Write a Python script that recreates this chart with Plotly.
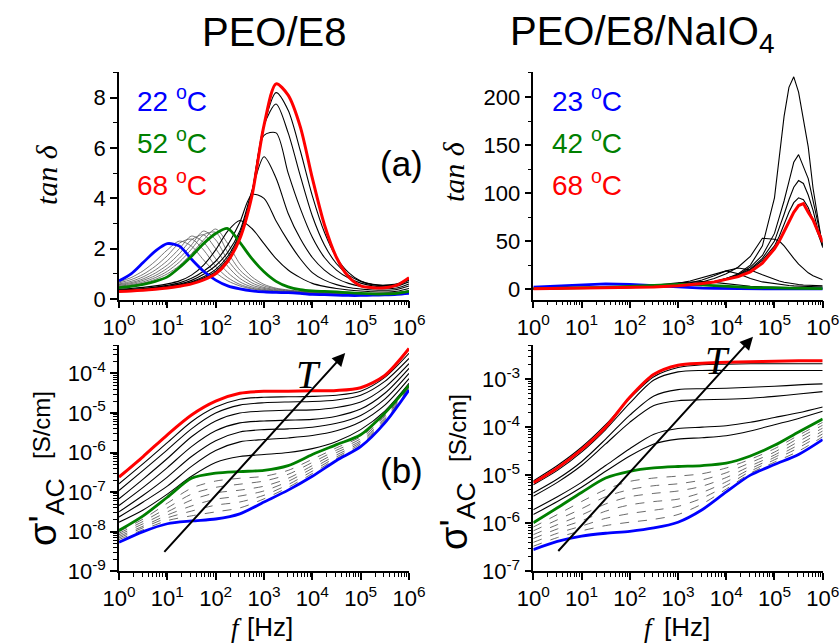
import numpy as np
import plotly.graph_objects as go

# ---------------- frequency grids (Hz) ----------------
F_QUARTER = [1, 1.778, 3.162, 5.623, 10, 17.78, 31.62, 56.23, 100, 177.8, 316.2, 562.3,
             1000, 1778, 3162, 5623, 1e4, 17783, 31623, 56234, 1e5, 177828, 316228, 562341, 1e6]
F_HALF = [1, 3.162, 10, 31.62, 100, 316.2, 1000, 3162, 1e4, 31623, 1e5, 316228, 1e6]
F_TR = [1, 3.162, 10, 31.62, 100, 316.2, 1000, 1778, 3162, 5623, 1e4, 17783, 31623, 56234,
        1e5, 125893, 158489, 199526, 251189, 316228, 398107, 501187, 630957, 794328, 1e6]

# ---------------- (a) PEO/E8 : tan delta ----------------
tl_blue = [0.72, 1.0, 1.45, 1.9, 2.2, 2.1, 1.58, 1.1, 0.75, 0.52, 0.4, 0.32, 0.28, 0.26, 0.25,
           0.22, 0.18, 0.17, 0.15, 0.14, 0.14, 0.15, 0.16, 0.18, 0.22]
tl_green = [0.45, 0.5, 0.58, 0.7, 0.88, 1.25, 1.7, 2.2, 2.6, 2.8, 2.25, 1.6, 1.08, 0.7, 0.48,
            0.37, 0.32, 0.3, 0.28, 0.25, 0.22, 0.2, 0.2, 0.22, 0.3]
tl_red = [0.3, 0.32, 0.35, 0.39, 0.44, 0.51, 0.6, 0.76, 1.0, 1.5, 2.4, 4.1, 6.9, 8.55, 8.1,
          6.85, 4.8, 2.95, 1.65, 0.88, 0.52, 0.45, 0.45, 0.55, 0.85]
tl_thin = [
    [0.68, 0.85, 1.12, 1.5, 1.95, 2.3, 2.1, 1.55, 1.05, 0.72, 0.52, 0.4, 0.33, 0.29, 0.27, 0.25, 0.23, 0.21, 0.2, 0.19, 0.19, 0.2, 0.21, 0.23, 0.28],
    [0.64, 0.77, 0.98, 1.3, 1.72, 2.22, 2.38, 1.95, 1.3, 0.85, 0.58, 0.43, 0.35, 0.3, 0.27, 0.25, 0.23, 0.21, 0.2, 0.19, 0.19, 0.2, 0.21, 0.23, 0.29],
    [0.6, 0.7, 0.88, 1.15, 1.52, 2.0, 2.5, 2.25, 1.6, 1.05, 0.68, 0.48, 0.38, 0.32, 0.28, 0.26, 0.24, 0.22, 0.21, 0.2, 0.2, 0.2, 0.21, 0.24, 0.3],
    [0.57, 0.65, 0.8, 1.03, 1.35, 1.8, 2.35, 2.55, 2.0, 1.3, 0.82, 0.55, 0.42, 0.34, 0.3, 0.27, 0.25, 0.23, 0.22, 0.21, 0.2, 0.2, 0.22, 0.25, 0.31],
    [0.54, 0.61, 0.74, 0.93, 1.22, 1.62, 2.15, 2.7, 2.35, 1.55, 0.98, 0.64, 0.46, 0.37, 0.32, 0.29, 0.26, 0.24, 0.23, 0.21, 0.2, 0.21, 0.22, 0.25, 0.32],
    [0.51, 0.57, 0.68, 0.85, 1.1, 1.47, 1.98, 2.55, 2.65, 1.85, 1.15, 0.75, 0.52, 0.4, 0.34, 0.3, 0.27, 0.25, 0.23, 0.22, 0.21, 0.21, 0.22, 0.25, 0.33],
    [0.48, 0.54, 0.63, 0.78, 1.0, 1.33, 1.8, 2.35, 2.78, 2.2, 1.4, 0.88, 0.58, 0.43, 0.36, 0.31, 0.28, 0.26, 0.24, 0.22, 0.21, 0.21, 0.22, 0.25, 0.33],
]
tl_black = [
    [0.4, 0.42, 0.46, 0.52, 0.6, 0.72, 0.95, 1.35, 1.95, 2.7, 3.12, 2.8, 2.2, 1.6, 1.15, 0.85, 0.62, 0.5, 0.42, 0.36, 0.32, 0.29, 0.28, 0.31, 0.42],
    [0.37, 0.39, 0.42, 0.47, 0.54, 0.64, 0.82, 1.1, 1.5, 2.15, 3.05, 4.15, 4.0, 3.1, 2.3, 1.6, 1.05, 0.75, 0.57, 0.46, 0.4, 0.36, 0.35, 0.38, 0.52],
    [0.35, 0.37, 0.4, 0.44, 0.5, 0.59, 0.74, 0.98, 1.32, 1.85, 2.7, 4.3, 5.65, 4.8, 3.4, 2.4, 1.65, 1.15, 0.82, 0.62, 0.5, 0.43, 0.41, 0.44, 0.6],
    [0.33, 0.35, 0.38, 0.42, 0.48, 0.56, 0.68, 0.88, 1.18, 1.7, 2.6, 4.25, 6.5, 6.6, 5.0, 3.6, 2.45, 1.65, 1.15, 0.83, 0.63, 0.52, 0.48, 0.51, 0.68],
    [0.32, 0.34, 0.37, 0.41, 0.46, 0.54, 0.65, 0.83, 1.1, 1.6, 2.5, 4.2, 6.9, 7.75, 6.6, 4.9, 3.3, 2.15, 1.4, 0.95, 0.7, 0.57, 0.53, 0.56, 0.75],
    [0.31, 0.33, 0.36, 0.4, 0.45, 0.52, 0.62, 0.8, 1.05, 1.55, 2.45, 4.15, 6.9, 8.2, 7.5, 5.9, 4.1, 2.65, 1.65, 1.05, 0.72, 0.58, 0.55, 0.6, 0.8],
]

# ---------------- PEO/E8/NaIO4 : tan delta ----------------
tr_blue = [2.0, 3.0, 4.0, 5.5, 5.0, 3.5, 2.0, 1.5, 1.0, 0.7, 0.5, 0.4, 0.3, 0.3, 0.25, 0.25,
           0.2, 0.2, 0.2, 0.2, 0.2, 0.2, 0.2, 0.2, 0.2]
tr_green = [0.5, 0.8, 1.2, 1.8, 2.8, 4.0, 5.0, 5.0, 4.5, 3.8, 3.0, 2.3, 1.7, 1.3, 1.0, 0.9,
            0.8, 0.8, 0.7, 0.7, 0.7, 0.6, 0.6, 0.6, 0.6]
tr_red = [0.5, 0.7, 0.9, 1.1, 1.5, 2.2, 3.5, 4.5, 5.8, 7.5, 10, 13, 18, 27, 42, 50, 60, 70,
          80, 87, 89, 80, 72, 60, 49]
tr_black = [
    [1.0, 1.2, 1.5, 2.0, 2.5, 3.0, 3.5, 4.5, 6, 8, 11, 16, 25, 45, 95, 140, 180, 210, 221, 205, 175, 148, 105, 72, 43],
    [0.5, 0.7, 1.0, 1.3, 1.7, 2.2, 3.0, 4.0, 5.5, 7.5, 10.5, 15, 23, 35, 58, 75, 92, 112, 132, 140, 128, 115, 92, 68, 46],
    [0.5, 0.7, 1.0, 1.3, 1.7, 2.2, 3.0, 4.0, 5.5, 7.5, 11, 15, 21, 32, 50, 63, 78, 93, 106, 113, 110, 98, 82, 62, 45],
    [0.5, 0.7, 1.0, 1.3, 1.7, 2.2, 3.0, 4.0, 5.3, 7.2, 10, 14, 20, 30, 45, 55, 68, 80, 90, 95, 93, 85, 72, 58, 44],
    [0.5, 0.7, 1.0, 1.3, 1.8, 2.5, 4.0, 5.5, 7.5, 11, 16, 23, 34, 53, 52, 50, 45, 38, 32, 26, 21, 17, 14, 11.5, 9.7],
    [0.3, 0.5, 0.8, 1.1, 1.6, 2.5, 4.5, 6.5, 9.5, 14, 19, 22, 20, 15, 10, 8.5, 7.2, 6.2, 5.4, 4.8, 4.3, 4.0, 3.7, 3.5, 3.4],
    [0.3, 0.5, 0.8, 1.2, 1.8, 3.0, 6.0, 8.5, 12, 16, 19, 16, 11, 7.5, 5.5, 4.8, 4.2, 3.8, 3.4, 3.1, 2.8, 2.6, 2.4, 2.3, 2.2],
    [0.3, 0.6, 1.0, 1.6, 2.5, 4.0, 6.5, 7.5, 8, 7, 5.5, 4, 3, 2.3, 1.8, 1.6, 1.5, 1.4, 1.3, 1.2, 1.1, 1.0, 1.0, 0.9, 0.9],
]

# ---------------- (b) PEO/E8 : log10 sigma'_AC [S/cm] ----------------
bl_red = [-6.62, -6.1, -5.55, -5.05, -4.7, -4.5, -4.45, -4.45, -4.44, -4.43, -4.36, -4.05, -3.37]
bl_green = [-7.97, -7.6, -7.13, -6.65, -6.52, -6.48, -6.45, -6.33, -6.05, -5.8, -5.55, -5.0, -4.3]
bl_blue = [-8.27, -8.0, -7.8, -7.73, -7.68, -7.55, -7.25, -6.95, -6.6, -6.2, -5.85, -5.25, -4.42]
bl_black = [
    [-6.79, -6.28, -5.75, -5.22, -4.85, -4.65, -4.6, -4.59, -4.58, -4.55, -4.45, -4.1, -3.49],
    [-6.96, -6.45, -5.93, -5.4, -5.0, -4.8, -4.74, -4.72, -4.71, -4.67, -4.55, -4.2, -3.62],
    [-7.17, -6.67, -6.15, -5.6, -5.2, -5.0, -4.95, -4.93, -4.92, -4.86, -4.72, -4.35, -3.75],
    [-7.34, -6.88, -6.38, -5.85, -5.45, -5.25, -5.2, -5.18, -5.16, -5.08, -4.9, -4.5, -3.87],
    [-7.5, -7.08, -6.62, -6.1, -5.7, -5.48, -5.42, -5.4, -5.36, -5.26, -5.06, -4.65, -4.0],
    [-7.63, -7.25, -6.85, -6.35, -5.95, -5.73, -5.67, -5.63, -5.57, -5.45, -5.22, -4.8, -4.13],
    [-7.76, -7.45, -7.05, -6.6, -6.25, -6.1, -6.05, -6.0, -5.9, -5.72, -5.42, -4.95, -4.25],
]
bl_thin = [
    [-8.0, -7.68, -7.28, -6.9, -6.72, -6.65, -6.6, -6.45, -6.17, -5.88, -5.6, -5.05, -4.32],
    [-8.04, -7.74, -7.4, -7.05, -6.88, -6.8, -6.72, -6.55, -6.25, -5.94, -5.65, -5.08, -4.34],
    [-8.08, -7.8, -7.5, -7.2, -7.02, -6.95, -6.85, -6.65, -6.33, -6.0, -5.7, -5.12, -4.36],
    [-8.12, -7.86, -7.58, -7.35, -7.18, -7.1, -6.97, -6.73, -6.4, -6.06, -5.74, -5.16, -4.38],
    [-8.16, -7.9, -7.65, -7.48, -7.33, -7.25, -7.08, -6.81, -6.47, -6.11, -5.78, -5.19, -4.39],
    [-8.2, -7.95, -7.72, -7.6, -7.5, -7.4, -7.17, -6.88, -6.53, -6.15, -5.82, -5.22, -4.4],
]

# ---------------- PEO/E8/NaIO4 : log10 sigma'_AC [S/cm] ----------------
br_red = [-5.16, -4.85, -4.47, -4.0, -3.38, -2.9, -2.71, -2.67, -2.65, -2.64, -2.63, -2.62, -2.62]
br_green = [-5.99, -5.68, -5.36, -5.06, -4.92, -4.85, -4.82, -4.8, -4.75, -4.6, -4.38, -4.1, -3.83]
br_blue = [-6.55, -6.38, -6.27, -6.21, -6.17, -6.1, -5.98, -5.72, -5.35, -5.0, -4.78, -4.57, -4.26]
br_black = [
    [-5.12, -4.8, -4.42, -3.95, -3.4, -2.95, -2.76, -2.7, -2.69, -2.68, -2.68, -2.68, -2.68],
    [-5.2, -4.9, -4.52, -4.05, -3.5, -3.02, -2.85, -2.82, -2.82, -2.82, -2.82, -2.82, -2.82],
    [-5.37, -5.08, -4.72, -4.25, -3.75, -3.35, -3.22, -3.2, -3.19, -3.17, -3.15, -3.12, -3.1],
    [-5.44, -5.15, -4.8, -4.35, -3.9, -3.55, -3.45, -3.43, -3.42, -3.4, -3.36, -3.31, -3.26],
    [-5.72, -5.45, -5.15, -4.8, -4.45, -4.15, -4.03, -4.0, -3.97, -3.9, -3.8, -3.7, -3.58],
    [-5.82, -5.55, -5.25, -4.92, -4.6, -4.35, -4.25, -4.22, -4.18, -4.08, -3.95, -3.82, -3.67],
]
br_thin = [
    [-6.08, -5.82, -5.55, -5.3, -5.13, -5.06, -5.02, -4.97, -4.85, -4.67, -4.45, -4.17, -3.9],
    [-6.16, -5.93, -5.7, -5.45, -5.3, -5.22, -5.18, -5.1, -4.95, -4.74, -4.52, -4.23, -3.96],
    [-6.24, -6.03, -5.83, -5.6, -5.45, -5.38, -5.33, -5.23, -5.05, -4.81, -4.58, -4.3, -4.02],
    [-6.32, -6.12, -5.95, -5.75, -5.62, -5.55, -5.5, -5.36, -5.14, -4.87, -4.63, -4.37, -4.08],
    [-6.4, -6.21, -6.06, -5.9, -5.8, -5.73, -5.65, -5.48, -5.22, -4.92, -4.68, -4.43, -4.14],
    [-6.48, -6.3, -6.16, -6.05, -5.98, -5.92, -5.82, -5.6, -5.29, -4.96, -4.73, -4.5, -4.2],
]

LEGEND_L = ["22 <sup>o</sup>C", "52 <sup>o</sup>C", "68 <sup>o</sup>C"]
LEGEND_R = ["23 <sup>o</sup>C", "42 <sup>o</sup>C", "68 <sup>o</sup>C"]

BLUE, GREEN, RED = "#0000FF", "#008000", "#FF0000"

fig = go.Figure()


def add(xa, ya, x, y, color, width, dash="solid", shape="spline"):
    fig.add_trace(go.Scatter(x=x, y=y, mode="lines", xaxis=xa, yaxis=ya,
                             line=dict(color=color, width=width, dash=dash, shape=shape,
                                       smoothing=0.8 if shape == "spline" else None),
                             showlegend=False, hoverinfo="skip"))


def sig(v):
    return [10 ** e for e in v]


# top-left
for c in tl_thin:
    add("x", "y", F_QUARTER, c, "#555555", 0.8)
for c in tl_black:
    add("x", "y", F_QUARTER, c, "black", 1.1)
add("x", "y", F_QUARTER, tl_blue, BLUE, 2.8)
add("x", "y", F_QUARTER, tl_green, GREEN, 2.8)
add("x", "y", F_QUARTER, tl_red, RED, 3)

# top-right
for c in tr_black:
    add("x2", "y2", F_TR, c, "black", 1.1, shape="linear")
add("x2", "y2", F_TR, tr_blue, BLUE, 2.8, shape="linear")
add("x2", "y2", F_TR, tr_green, GREEN, 2.8, shape="linear")
add("x2", "y2", F_TR, tr_red, RED, 3, shape="linear")

# bottom-left
for c in bl_thin:
    add("x3", "y3", F_HALF, sig(c), "#444444", 0.8, dash="dash")
for c in bl_black:
    add("x3", "y3", F_HALF, sig(c), "black", 1.1)
add("x3", "y3", F_HALF, sig(bl_blue), BLUE, 2.8)
add("x3", "y3", F_HALF, sig(bl_green), GREEN, 2.8)
add("x3", "y3", F_HALF, sig(bl_red), RED, 3)

# bottom-right
for c in br_thin:
    add("x4", "y4", F_HALF, sig(c), "#444444", 0.8, dash="dash")
for c in br_black:
    add("x4", "y4", F_HALF, sig(c), "black", 1.1)
add("x4", "y4", F_HALF, sig(br_blue), BLUE, 2.8)
add("x4", "y4", F_HALF, sig(br_green), GREEN, 2.8)
add("x4", "y4", F_HALF, sig(br_red), RED, 3)

# ---------------- axes ----------------
W, H = 840, 643
TICKFONT = dict(family="Arial", size=22, color="black")
decades = [1, 10, 100, 1000, 1e4, 1e5, 1e6]
dec_text = ["10<sup>%d</sup>" % i for i in range(7)]
minor_x = [m * d for d in decades[:-1] for m in range(2, 10)]

common = dict(showgrid=False, zeroline=False, showline=True, linecolor="black", linewidth=1.5,
              ticks="outside", ticklen=7, tickwidth=1.5, tickcolor="black", tickfont=TICKFONT,
              automargin=False)


def xax(domain, anchor):
    return dict(common, type="log", range=[0, 6], domain=domain, anchor=anchor,
                tickmode="array", tickvals=decades, ticktext=dec_text,
                minor=dict(tickmode="array", tickvals=minor_x, ticks="outside", ticklen=4,
                           tickwidth=1, tickcolor="black"))


XL = [119 / W, 409 / W]
XR = [533.3 / W, 822.7 / W]
YT = [1 - 299.5 / H, 1 - 72 / H]
YB = [1 - 571.2 / H, 1 - 345 / H]

fig.update_layout(
    xaxis=xax(XL, "y"), xaxis2=xax(XR, "y2"), xaxis3=xax(XL, "y3"), xaxis4=xax(XR, "y4"),
    yaxis=dict(common, range=[-0.02, 9.02], domain=YT, anchor="x", tickmode="array",
               tickvals=[0, 2, 4, 6, 8],
               minor=dict(tickmode="array", tickvals=[1, 3, 5, 7, 9], ticks="outside", ticklen=4,
                          tickwidth=1, tickcolor="black")),
    yaxis2=dict(common, range=[-10.8, 226], domain=YT, anchor="x2", tickmode="array",
                tickvals=[0, 50, 100, 150, 200],
                minor=dict(tickmode="array", tickvals=[25, 75, 125, 175, 225], ticks="outside",
                           ticklen=4, tickwidth=1, tickcolor="black")),
)

bl_dec = [10.0 ** e for e in range(-9, -3)]
br_dec = [10.0 ** e for e in range(-7, -2)]
fig.update_layout(
    yaxis3=dict(common, type="log", range=[-9, -3.28], domain=YB, anchor="x3", tickmode="array",
                tickvals=bl_dec, ticktext=["10<sup>%d</sup>" % e for e in range(-9, -3)],
                minor=dict(tickmode="array",
                           tickvals=[m * d for d in bl_dec for m in range(2, 10)],
                           ticks="outside", ticklen=4, tickwidth=1, tickcolor="black")),
    yaxis4=dict(common, type="log", range=[-7, -2.29], domain=YB, anchor="x4", tickmode="array",
                tickvals=br_dec, ticktext=["10<sup>%d</sup>" % e for e in range(-7, -2)],
                minor=dict(tickmode="array",
                           tickvals=[m * d for d in br_dec for m in range(2, 10)],
                           ticks="outside", ticklen=4, tickwidth=1, tickcolor="black")),
)

# ---------------- annotations ----------------
ann = []


def txt(x, y, text, size, color="black", family="Arial", angle=0, xanchor="center"):
    ann.append(dict(x=x / W, y=1 - y / H, xref="paper", yref="paper", text=text, showarrow=False,
                    font=dict(family=family, size=size, color=color), textangle=angle,
                    xanchor=xanchor, yanchor="middle"))


txt(274, 32, "PEO/E8", 40)
txt(642, 34, "PEO/E8/NaIO<sub>4</sub>", 40)

for i, (t, c) in enumerate(zip(LEGEND_L, [BLUE, GREEN, RED])):
    txt(135, 99 + 42 * i, t, 28, color=c, xanchor="left")
for i, (t, c) in enumerate(zip(LEGEND_R, [BLUE, GREEN, RED])):
    txt(550, 99 + 42 * i, t, 28, color=c, xanchor="left")

txt(401, 163, "(a)", 35)
txt(401, 470, "(b)", 35)

txt(46, 175, "<i>tan δ</i>", 30, family="Liberation Serif", angle=-90)
txt(453, 172, "<i>tan δ</i>", 30, family="Liberation Serif", angle=-90)

txt(46, 512, "σ'<sub>AC</sub>", 38, angle=-90)
txt(41, 425, "[S/cm]", 24, angle=-90)
txt(457, 516, "σ'<sub>AC</sub>", 38, angle=-90)
txt(457, 428, "[S/cm]", 24, angle=-90)

txt(236, 628, "<i>f</i>", 27, family="Liberation Serif")
txt(270, 627, "[Hz]", 26)
txt(649, 628, "<i>f</i>", 27, family="Liberation Serif")
txt(687, 627, "[Hz]", 26)

txt(308, 374, "<i>T</i>", 40, family="Liberation Serif")
txt(717, 360, "<i>T</i>", 40, family="Liberation Serif")

# arrows (data coords in log10 units)
ann.append(dict(xref="x3", yref="y3", axref="x3", ayref="y3", x=4.68, y=-3.48, ax=0.91, ay=-8.55,
                text="", showarrow=True, arrowhead=2, arrowsize=1.3, arrowwidth=2,
                arrowcolor="black"))
ann.append(dict(xref="x4", yref="y4", axref="x4", ayref="y4", x=4.555, y=-2.12, ax=0.49, ay=-6.61,
                text="", showarrow=True, arrowhead=2, arrowsize=1.3, arrowwidth=2,
                arrowcolor="black"))

fig.update_layout(annotations=ann, width=W, height=H, margin=dict(l=0, r=0, t=0, b=0),
                  paper_bgcolor="white", plot_bgcolor="white", showlegend=False)

fig.write_html("out.html")
